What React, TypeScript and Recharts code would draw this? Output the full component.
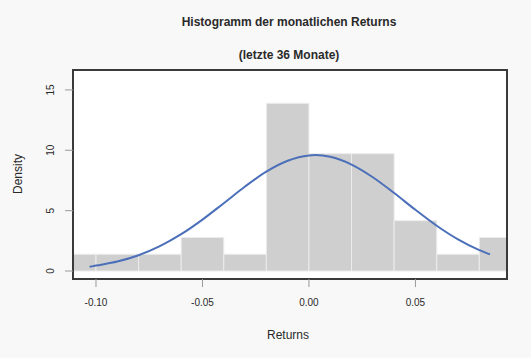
import React from "react";
import { ComposedChart, Line, XAxis, YAxis, ReferenceArea } from "recharts";

// Histogram bins (returns) and densities
const binStarts = [-0.12, -0.1, -0.08, -0.06, -0.04, -0.02, 0.0, 0.02, 0.04, 0.06, 0.08];
const binEnds = [-0.1, -0.08, -0.06, -0.04, -0.02, 0.0, 0.02, 0.04, 0.06, 0.08, 0.1];
const binDensity = [1.39, 1.39, 1.39, 2.78, 1.39, 13.89, 9.72, 9.72, 4.17, 1.39, 2.78];

// Normal density curve
const curveX = [-0.103, -0.1, -0.09, -0.08, -0.07, -0.06, -0.05, -0.04, -0.03, -0.02, -0.01, 0.0, 0.003, 0.01, 0.02, 0.03, 0.04, 0.05, 0.06, 0.07, 0.08, 0.085];
const curveY = [0.35, 0.45, 0.79, 1.31, 2.06, 3.05, 4.26, 5.62, 7.0, 8.23, 9.13, 9.57, 9.6, 9.46, 8.82, 7.77, 6.46, 5.07, 3.75, 2.62, 1.73, 1.38];

const xTicks = [-0.1, -0.05, 0.0, 0.05];
const yTicks = [0, 5, 10, 15];
const xDomain: [number, number] = [-0.1108, 0.093];
const yDomain: [number, number] = [-0.66, 16.65];

const curveData = curveX.map((x, i) => ({ x, y: curveY[i] }));

const FONT = "'Liberation Sans', Arial, Helvetica, sans-serif";
const TEXT = "#2a2a2a";

const XTick = (props: any) => {
  const { x, y, payload } = props;
  return (
    <text x={x} y={y} dy={17} textAnchor="middle" fontSize={10} fontFamily={FONT} fill={TEXT}>
      {Number(payload.value).toFixed(2)}
    </text>
  );
};

const YTick = (props: any) => {
  const { x, y, payload } = props;
  const cx = x - 9;
  return (
    <text
      x={cx}
      y={y}
      transform={`rotate(-90 ${cx} ${y})`}
      textAnchor="middle"
      fontSize={10}
      fontFamily={FONT}
      fill={TEXT}
    >
      {payload.value}
    </text>
  );
};

export default function App() {
  return (
    <div style={{ position: "absolute", left: 0, top: 0, width: 531, height: 358, background: "#f8f8f8" }}>
      <svg width={531} height={358} style={{ position: "absolute", left: 0, top: 0 }}>
        <text x={289} y={26} textAnchor="middle" fontSize={12} fontWeight="bold" fontFamily={FONT} fill={TEXT}>
          Histogramm der monatlichen Returns
        </text>
        <text x={289} y={59} textAnchor="middle" fontSize={12} fontWeight="bold" fontFamily={FONT} fill={TEXT}>
          (letzte 36 Monate)
        </text>
        <text
          x={18}
          y={174}
          transform="rotate(-90 18 174)"
          dy={4}
          textAnchor="middle"
          fontSize={12}
          fontFamily={FONT}
          fill={TEXT}
        >
          Density
        </text>
        <text x={288} y={339} textAnchor="middle" fontSize={12} fontFamily={FONT} fill={TEXT}>
          Returns
        </text>
      </svg>
      <div style={{ position: "absolute", left: 0, top: 0 }}>
        <ComposedChart
          width={531}
          height={358}
          data={curveData}
          margin={{ top: 70, right: 24, left: 0, bottom: 0 }}
        >
          <XAxis
            dataKey="x"
            type="number"
            domain={xDomain}
            allowDataOverflow
            ticks={xTicks}
            axisLine={false}
            tickLine={{ stroke: "#9a9a9a" }}
            tickSize={8}
            height={79}
            tick={<XTick />}
            interval={0}
          />
          <YAxis
            type="number"
            domain={yDomain}
            allowDataOverflow
            ticks={yTicks}
            axisLine={false}
            tickLine={{ stroke: "#9a9a9a" }}
            tickSize={8}
            width={73}
            tick={<YTick />}
            interval={0}
          />
          <ReferenceArea
            x1={xDomain[0]}
            x2={xDomain[1]}
            y1={yDomain[0]}
            y2={yDomain[1]}
            fill="#ffffff"
            fillOpacity={1}
            stroke="none"
            ifOverflow="visible"
          />
          {binStarts.map((s, i) => (
            <ReferenceArea
              key={i}
              x1={s}
              x2={binEnds[i]}
              y1={0}
              y2={binDensity[i]}
              fill="#cfcfcf"
              fillOpacity={1}
              stroke="#ececec"
              strokeWidth={1}
              ifOverflow="hidden"
            />
          ))}
          <Line
            dataKey="y"
            type="monotone"
            stroke="#4b6fb8"
            strokeWidth={2}
            dot={false}
            isAnimationActive={false}
          />
          <ReferenceArea
            x1={xDomain[0]}
            x2={xDomain[1]}
            y1={yDomain[0]}
            y2={yDomain[1]}
            fill="none"
            fillOpacity={0}
            stroke="#3a3a3a"
            strokeWidth={2}
            ifOverflow="visible"
          />
        </ComposedChart>
      </div>
    </div>
  );
}
